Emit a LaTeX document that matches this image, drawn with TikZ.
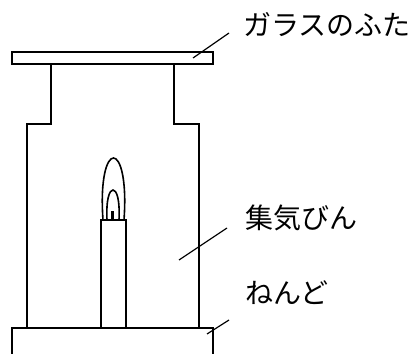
\documentclass[tikz,border=0pt]{standalone}
\usepackage{fontspec}
\newfontfamily\jpfont{Noto Sans CJK JP}
\usepackage{tikz}
\usetikzlibrary{positioning}

\begin{document}
\begin{tikzpicture}[
  x=1pt, y=-1pt,
  part/.style={line width=1.6pt, line join=miter},
  lead/.style={line width=1.2pt},
  lbl/.style={anchor=west, inner sep=0pt, font=\jpfont\fontsize{28}{28}\selectfont}
]
\useasboundingbox (0,0) rectangle (414,353);
% glass lid
\draw[part] (12,52) rectangle (213,64);
% gas jar with narrow neck
\draw[part] (51,64) -- (51,124) -- (27,124) -- (27,328);
\draw[part] (174,64) -- (174,124) -- (199,124) -- (199,328);
% clay base, cut off at the bottom
\draw[part] (12,355) -- (12,328) -- (213,328) -- (213,355);
% candle, flame and wick
\draw[part] (101,328) -- (101,220) -- (126,220) -- (126,328);
\draw[part] (103,220) .. controls (100,178) and (107,158) .. (113.5,158)
  .. controls (120,158) and (127,178) .. (124,220);
\draw[part] (107,220) .. controls (106,199) and (109.5,190) .. (113,190)
  .. controls (116.5,190) and (120,199) .. (119,220);
\draw[line width=2.6pt] (112.5,211) -- (112.5,220);
% labels on the right
\node[lbl] (lid) at (243,25) {ガラスのふた};
\node[lbl] (jar) at (245,218) {集気びん};
\node[lbl] (clay) at (245,293) {ねんど};
% leader lines
\coordinate (lidpt) at (193,58);
\coordinate (lidend) at (229,33);
\coordinate (jarpt) at (179,260);
\coordinate (jarend) at (227,228);
\coordinate (claypt) at (207,334);
\coordinate (clayend) at (229,320);
\draw[lead] (lidpt) -- (lidend);
\draw[lead] (jarpt) -- (jarend);
\draw[lead] (claypt) -- (clayend);
\end{tikzpicture}
\end{document}
